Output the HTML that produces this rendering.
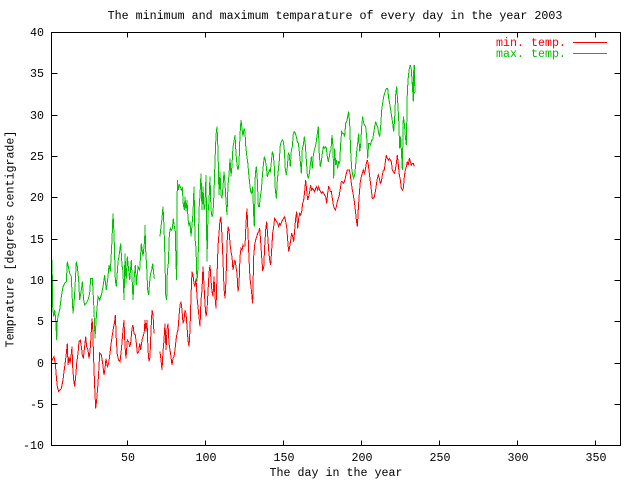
<!DOCTYPE html>
<html><head><meta charset="utf-8"><style>
html,body{margin:0;padding:0;background:#fff;}
svg{display:block;}
text{font-family:"Liberation Mono",monospace;font-size:11.67px;fill:#000;}
</style></head><body>
<svg width="640" height="480" viewBox="0 0 640 480" xmlns="http://www.w3.org/2000/svg">
<rect width="640" height="480" fill="#fff"/>
<text x="335" y="19" text-anchor="middle">The minimum and maximum temparature of every day in the year 2003</text>

<g fill="none" stroke-width="1" shape-rendering="crispEdges">
<!-- green max -->
<g stroke="#00c000">
<polyline vector-effect="non-scaling-stroke" transform="translate(48,200) scale(0.33333)" points="10,155 12,195 14,270 14,320 17,350 20,330 23,355 26,420 28,360 31,345 35,330 40,290 45,260 50,250 55,245 58,185 62,205 65,220 70,230 72,280 75,340 78,310 80,280 85,185 88,200 92,240 95,300 100,270 103,245 107,300 110,315 115,310 120,300 125,280 128,235 133,235 135,270 138,330 141,415 145,350 150,290 155,300 160,285 165,260 170,225 175,270 180,230 183,195 187,215 192,120 195,40 198,100 202,240 205,260 210,185 213,170 218,130 222,195 225,215 228,300 231,160 234,250 238,170 242,210 245,240 250,180 255,300 258,240 262,195 265,255 270,200 275,210 280,130 285,170 290,120"/>
<polyline vector-effect="non-scaling-stroke" transform="translate(145,110) scale(0.33333)" points="-1,390 0,345 2,420 5,470 8,540 11,555 14,515 17,490 20,480 23,460 26,490 28,505"/>
<polyline vector-effect="non-scaling-stroke" transform="translate(145,110) scale(0.33333)" points="45,380 48,350 51,325 54,290 57,350 60,450 62,555 65,570 67,485 70,460 73,375 76,355 79,360 82,355 85,325 88,350 91,365 93,455 95,510 97,210 100,240 103,225 106,230 109,240 112,235 115,285 118,300 120,260 123,305 126,270 129,325 132,350 135,335 138,380 141,345 144,310 147,230 150,385 153,415 156,515 159,470 162,300 165,255 168,190 171,300 174,230 177,300 180,285 183,195 186,455 189,310 192,275 195,200 198,300 201,320 204,310 207,250 210,155 213,75 216,50 219,120 222,255 225,185 228,255 231,265 234,230 237,185 240,220 243,275 246,315 249,225 252,195 255,145 258,200 261,165 264,110 267,95 270,75 273,130 276,165 279,180 282,160 285,75 288,30 291,55 294,80 297,55 300,65"/>
<polyline vector-effect="non-scaling-stroke" transform="translate(240,90) scale(0.33333)" points="15,125 17,165 20,195 23,215 26,250 29,280 32,305 35,310 38,290 41,375 43,410 46,250 49,230 52,270 55,350 58,350 61,320 64,300 67,260 70,225 73,200 76,210 79,230 82,260 85,250 88,240 91,245 94,215 97,185 100,195 103,230 106,300 109,325 112,270 115,240 118,210 121,165 124,155 127,150 130,155 133,180 136,240 139,255 142,230 145,190 148,195 151,230 154,180 157,170 160,130 163,125 166,130 169,140 172,155 175,160 178,185 181,215 184,250 187,175 190,165 193,140 196,165 199,210 202,255 205,265 208,250 211,225 214,200 217,235 220,195 223,180 226,170 229,155 232,130 235,110 238,195 241,230 244,215 247,190 250,170 253,175 256,170 259,175 262,200 265,215 268,200 270,185"/>
<polyline vector-effect="non-scaling-stroke" transform="translate(325,55) scale(0.33333)" points="15,290 18,285 21,240 24,275 26,370 29,280 32,330 35,315 38,340 41,320 44,325 47,265 50,230 53,235 56,235 59,245 62,205 65,200 68,185 71,170 74,205 77,290 80,340 83,360 86,370 89,360 92,330 95,290 98,265 101,235 104,290 107,270 110,215 113,185 116,205 119,210 122,215 125,245 128,310 131,265 134,265 137,270 140,255 143,255 146,235 149,215 152,200 155,210 158,215 161,235 164,245 167,215 170,165 173,145 176,125 179,115 182,105 185,100 188,100 191,130 194,145 197,165 200,185 203,205 206,230 209,190 212,120 215,95 218,140 221,190 224,280 227,245 230,305 232,345 235,185 238,205 241,245 244,270 247,110 250,65 253,40 256,30 259,45 262,90 265,140 268,30 269,80 270,110 267,115 264,100 267,30"/>
</g>
<!-- red min -->
<g stroke="#ff0000">
<polyline vector-effect="non-scaling-stroke" transform="translate(48,200) scale(0.33333)" points="10,485 15,475 18,470 22,490 25,530 28,560 32,575 36,570 40,565 45,540 48,515 52,485 55,460 58,430 60,495 63,470 66,490 70,460 72,440 74,500 77,540 80,560 83,530 86,490 90,460 93,425 97,420 100,440 103,465 106,475 110,440 113,410 116,440 120,450 123,475 126,455 129,410 132,355 134,380 137,480 140,560 143,625 146,600 150,550 153,500 155,460 160,465 164,490 168,525 171,505 174,475 178,500 182,490 186,460 190,425 193,405 197,380 200,365 202,345 205,420 208,465 212,480 216,485 220,450 225,390 228,360 231,440 234,475 238,420 242,425 245,440 248,430 252,385 255,375 258,400 262,405 265,430 268,460 272,455 275,430 278,450 282,420 285,410 289,395"/>
<polyline vector-effect="non-scaling-stroke" transform="translate(145,110) scale(0.33333)" points="-2,665 0,630 3,665 6,630 9,720 12,755 15,740 18,660 21,600 24,615 27,670"/>
<polyline vector-effect="non-scaling-stroke" transform="translate(145,110) scale(0.33333)" points="45,725 48,750 51,780 54,725 57,690 60,640 63,720 66,660 69,640 72,700 75,720 78,740 81,765 84,745 87,740 90,720 93,690 96,670 99,660 102,620 105,585 108,575 111,600 114,640 117,630 120,600 123,610 126,650 129,690 132,710 135,660 138,560 141,485 144,495 147,520 150,530 153,505 156,560 159,590 162,620 165,650 168,570 171,540 174,470 177,525 180,580 183,620 186,600 189,545 192,490 195,465 198,510 201,545 204,560 207,500 210,560 213,595 216,500 219,410 222,370 225,330 228,320 231,380 234,450 237,535 240,565 243,510 246,405 249,350 252,360 255,400 258,425 261,440 264,480 267,460 270,450 273,470 276,490 279,545 282,525 285,440 288,415 291,420 294,405 297,410"/>
<polyline vector-effect="non-scaling-stroke" transform="translate(240,90) scale(0.33333)" points="15,470 18,400 21,355 24,430 27,505 30,565 33,590 36,620 38,640 41,500 44,465 47,450 50,440 53,430 56,425 59,415 62,455 65,500 68,540 71,535 74,470 77,420 80,395 83,435 86,480 89,510 92,525 95,480 98,430 101,410 104,385 107,390 110,395 113,400 116,410 119,400 122,405 125,395 128,390 131,385 134,380 137,395 140,410 143,450 146,485 149,470 152,450 155,430 158,440 161,455 164,420 167,385 170,365 173,415 176,385 179,370 182,375 185,365 188,340 191,330 194,305 197,270 200,300 203,330 206,320 209,305 212,285 215,300 218,295 221,300 224,305 227,295 230,290 233,300 236,290 239,300 242,305 245,310 248,305 251,310 254,315 257,320 260,340 263,310 266,290 269,295"/>
<polyline vector-effect="non-scaling-stroke" transform="translate(325,55) scale(0.33333)" points="15,400 16,410 19,410 22,430 25,450 28,460 31,465 34,455 37,440 40,430 43,420 46,400 49,380 52,380 55,385 58,380 61,370 64,355 67,345 70,345 73,345 76,360 79,385 82,405 85,420 88,440 91,465 94,495 97,515 100,460 103,415 106,380 109,365 112,355 115,345 118,355 121,345 124,325 127,315 130,330 133,355 136,380 139,405 142,430 145,430 148,425 151,410 154,390 157,370 160,360 163,370 166,385 169,380 172,360 175,345 178,345 181,320 184,300 187,310 190,315 193,310 196,315 199,320 202,345 205,350 208,355 211,345 214,325 217,300 220,330 223,360 226,375 229,400 232,405 235,400 238,365 241,345 244,335 247,320 250,330 253,310 256,320 259,330 262,325 265,325 268,335"/>
</g>
</g>

<!-- border and ticks -->
<g stroke="#000" stroke-width="1" fill="none" shape-rendering="crispEdges">
<rect x="51.5" y="32.5" width="569" height="413"/>
<path d="M51.5 32.5h6M620.5 32.5h-6
M51.5 73.5h6M620.5 73.5h-6
M51.5 115.5h6M620.5 115.5h-6
M51.5 156.5h6M620.5 156.5h-6
M51.5 197.5h6M620.5 197.5h-6
M51.5 239.5h6M620.5 239.5h-6
M51.5 280.5h6M620.5 280.5h-6
M51.5 321.5h6M620.5 321.5h-6
M51.5 363.5h6M620.5 363.5h-6
M51.5 404.5h6M620.5 404.5h-6
M51.5 445.5h6M620.5 445.5h-6
M127.5 445.5v-5M127.5 32.5v5
M205.5 445.5v-5M205.5 32.5v5
M283.5 445.5v-5M283.5 32.5v5
M361.5 445.5v-5M361.5 32.5v5
M439.5 445.5v-5M439.5 32.5v5
M517.5 445.5v-5M517.5 32.5v5
M595.5 445.5v-5M595.5 32.5v5"/>
</g>

<!-- y tick labels -->
<g text-anchor="end">
<text x="44" y="36">40</text>
<text x="44" y="77">35</text>
<text x="44" y="119">30</text>
<text x="44" y="160">25</text>
<text x="44" y="201">20</text>
<text x="44" y="243">15</text>
<text x="44" y="284">10</text>
<text x="44" y="325">5</text>
<text x="44" y="367">0</text>
<text x="44" y="408">-5</text>
<text x="44" y="449">-10</text>
</g>
<!-- x tick labels -->
<g text-anchor="middle">
<text x="128" y="461">50</text>
<text x="206" y="461">100</text>
<text x="284" y="461">150</text>
<text x="362" y="461">200</text>
<text x="440" y="461">250</text>
<text x="518" y="461">300</text>
<text x="596" y="461">350</text>
</g>

<text x="336" y="476" text-anchor="middle">The day in the year</text>
<text transform="translate(13.5,239) rotate(-90)" x="0" y="0" text-anchor="middle">Temprature [degrees centigrade]</text>

<!-- legend -->
<text x="496" y="46" style="fill:#ff0000">min. temp.</text>
<text x="496" y="57" style="fill:#00c000">max. temp.</text>
<g shape-rendering="crispEdges" stroke-width="1">
<path d="M573 42.5H607" stroke="#ff0000"/>
<path d="M573 53.5H607" stroke="#00c000"/>
</g>
</svg>
</body></html>
